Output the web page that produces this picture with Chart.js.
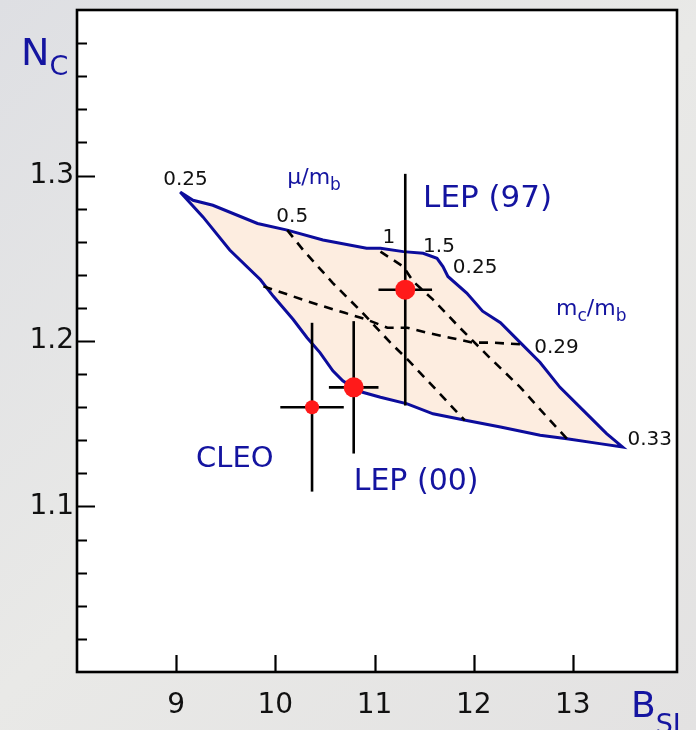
<!DOCTYPE html>
<html lang="en">
<head>
<meta charset="UTF-8">
<title>N_c vs B_SL</title>
<script src="https://cdn.jsdelivr.net/npm/chart.js"></script>
<style>
    html, body { margin: 0; padding: 0; background: #e4e4e7; }
    #wrap { width: 696px; height: 730px; }
</style>
</head>
<body>
<div id="wrap"><canvas id="chart" width="696" height="730"></canvas></div>
<script>
// measurements: B_SL (%) and N_c
const expNames = ['CLEO', 'LEP (00)', 'LEP (97)'];
const expX = [10.37, 10.79, 11.31];
const expY = [1.160, 1.172, 1.231];
const expXErr = [0.32, 0.25, 0.27];
const expYErr = [0.051, 0.040, 0.070];

// allowed region: mu/mb 0.25..1.5, mc/mb 0.25..0.33
const regionX = [9.04, 9.17, 9.37, 9.82, 10.12, 10.48, 10.92, 11.06, 11.29, 11.49, 11.63, 11.69, 11.74, 11.93, 12.09, 12.27, 12.47, 12.67, 12.87, 13.14, 13.34, 13.50,
                 13.27, 12.94, 12.67, 12.27, 11.93, 11.59, 11.33, 11.06, 10.88, 10.78, 10.68, 10.58, 10.45, 10.32, 10.18, 9.98, 9.85, 9.54, 9.27];
const regionY = [1.290, 1.285, 1.282, 1.271, 1.267, 1.261, 1.256, 1.256, 1.254, 1.253, 1.250, 1.245, 1.239, 1.229, 1.218, 1.211, 1.199, 1.187, 1.172, 1.156, 1.144, 1.136,
                 1.138, 1.141, 1.143, 1.148, 1.152, 1.156, 1.162, 1.166, 1.169, 1.172, 1.176, 1.182, 1.193, 1.202, 1.213, 1.227, 1.237, 1.255, 1.275];

// mu/mb = 0.5
const mu05X = [10.12, 10.28, 10.58, 10.88, 11.16, 11.33, 11.63, 11.91];
const mu05Y = [1.267, 1.255, 1.235, 1.217, 1.199, 1.189, 1.170, 1.152];
// mu/mb = 1
const mu1X = [11.06, 11.29, 11.39, 11.59, 11.86, 12.16, 12.47, 12.74, 12.94];
const mu1Y = [1.254, 1.245, 1.236, 1.225, 1.208, 1.190, 1.172, 1.154, 1.141];
// mc/mb = 0.29
const mc029X = [9.88, 10.08, 10.32, 10.48, 10.70, 10.92, 11.13, 11.33, 11.53, 11.76, 11.99, 12.19, 12.47];
const mc029Y = [1.233, 1.229, 1.224, 1.221, 1.217, 1.213, 1.208, 1.208, 1.205, 1.202, 1.199, 1.199, 1.198];

const xMin = 8, xMax = 14.05, yMin = 1.0, yMax = 1.4;

const BLUE = '#1414a0';
const FONT = '"DejaVu Sans", Verdana, sans-serif';

// text placed in the plot (data coordinates of left/baseline)
const notes = [
    { parts: [['LEP (97)', 31]], x: 11.49, y: 1.281, color: BLUE },
    { parts: [['LEP (00)', 30]], x: 10.79, y: 1.110, color: BLUE },
    { parts: [['CLEO', 29]], x: 9.20, y: 1.124, color: BLUE },
    { parts: [['\u03bc/m', 22], ['b', 17, 6]], x: 10.12, y: 1.295, color: BLUE },
    { parts: [['m', 22], ['c', 17, 6], ['/m', 22], ['b', 17, 6]], x: 12.83, y: 1.216, color: BLUE },
    { parts: [['0.25', 20]], x: 8.87, y: 1.294, color: '#111' },
    { parts: [['0.5', 20]], x: 10.01, y: 1.272, color: '#111' },
    { parts: [['1', 20]], x: 11.08, y: 1.259, color: '#111' },
    { parts: [['1.5', 20]], x: 11.49, y: 1.254, color: '#111' },
    { parts: [['0.25', 20]], x: 11.79, y: 1.241, color: '#111' },
    { parts: [['0.29', 20]], x: 12.61, y: 1.193, color: '#111' },
    { parts: [['0.33', 20]], x: 13.55, y: 1.137, color: '#111' }
];

function pts(xs, ys) {
    return xs.map((x, i) => ({ x: x, y: ys[i] }));
}

function drawParts(ctx, parts, x, y, color) {
    ctx.fillStyle = color;
    ctx.textAlign = 'left';
    ctx.textBaseline = 'alphabetic';
    let cx = x;
    parts.forEach(p => {
        ctx.font = p[1] + 'px ' + FONT;
        ctx.fillText(p[0], cx, y + (p[2] || 0));
        cx += ctx.measureText(p[0]).width;
    });
}

const decor = {
    id: 'decor',
    beforeDraw(chart) {
        const ctx = chart.ctx, a = chart.chartArea;
        ctx.save();
        const g = ctx.createLinearGradient(0, 0, 696, 730);
        g.addColorStop(0, '#dedfe3');
        g.addColorStop(0.5, '#e9e9e7');
        g.addColorStop(1, '#e3e2e2');
        ctx.fillStyle = g;
        ctx.fillRect(0, 0, chart.width, chart.height);
        ctx.fillStyle = '#ffffff';
        ctx.fillRect(a.left, a.top, a.right - a.left, a.bottom - a.top);
        ctx.restore();
    },
    afterDraw(chart) {
        const ctx = chart.ctx, a = chart.chartArea;
        const xs = chart.scales.x, ys = chart.scales.y;
        ctx.save();
        // inward ticks
        ctx.strokeStyle = '#000';
        ctx.lineWidth = 2.2;
        ctx.beginPath();
        ys.ticks.forEach(t => {
            const k = Math.round(t.value * 100);
            if (k <= 100 || k >= 140) return;
            const py = Math.round(ys.getPixelForValue(t.value)) + 0.5;
            const len = k % 10 === 0 ? 18 : 10;
            ctx.moveTo(a.left, py);
            ctx.lineTo(a.left + len, py);
        });
        xs.ticks.forEach(t => {
            if (t.value <= xMin || t.value >= 14) return;
            const px = Math.round(xs.getPixelForValue(t.value)) + 0.5;
            ctx.moveTo(px, a.bottom);
            ctx.lineTo(px, a.bottom - 17);
        });
        ctx.stroke();
        // frame
        ctx.lineWidth = 2.6;
        ctx.strokeRect(a.left, a.top, a.right - a.left, a.bottom - a.top);
        // notes inside the plot
        notes.forEach(n => {
            drawParts(ctx, n.parts, xs.getPixelForValue(n.x), ys.getPixelForValue(n.y), n.color);
        });
        // axis titles
        drawParts(ctx, [['N', 38], ['C', 27, 10]], 21, 65, BLUE);
        drawParts(ctx, [['B', 36], ['SL', 27, 16]], 631, 717, BLUE);
        ctx.restore();
    }
};

const datasets = [];
// measured points (on top)
datasets.push({
    data: pts(expX, expY),
    backgroundColor: '#ff1a1a',
    borderWidth: 0,
    pointRadius: [7, 10, 10],
    pointHoverRadius: [7, 10, 10],
    order: 0
});
// error bars
expX.forEach((x, i) => {
    datasets.push({
        data: [{ x: x - expXErr[i], y: expY[i] }, { x: x + expXErr[i], y: expY[i] }],
        showLine: true, borderColor: '#000', borderWidth: 2.6, pointRadius: 0, pointHoverRadius: 0, order: 1
    });
    datasets.push({
        data: [{ x: x, y: expY[i] - expYErr[i] }, { x: x, y: expY[i] + expYErr[i] }],
        showLine: true, borderColor: '#000', borderWidth: 2.6, pointRadius: 0, pointHoverRadius: 0, order: 1
    });
});
// dashed contour lines
[[mu05X, mu05Y], [mu1X, mu1Y], [mc029X, mc029Y]].forEach(l => {
    datasets.push({
        data: pts(l[0], l[1]),
        showLine: true, borderColor: '#000', borderWidth: 2.6, borderDash: [9, 7],
        pointRadius: 0, pointHoverRadius: 0, order: 2
    });
});
// region
datasets.push({
    data: pts(regionX.concat(regionX[0]), regionY.concat(regionY[0])),
    showLine: true, fill: 'shape', backgroundColor: '#fdede0',
    borderColor: '#0c0c9c', borderWidth: 3, pointRadius: 0, pointHoverRadius: 0, order: 3
});

new Chart(document.getElementById('chart'), {
    type: 'scatter',
    data: { datasets: datasets },
    options: {
        responsive: false,
        animation: false,
        layout: { padding: { top: 10, right: 19, left: 0, bottom: 0 } },
        plugins: { legend: { display: false }, tooltip: { enabled: false } },
        scales: {
            x: {
                type: 'linear', min: xMin, max: xMax,
                afterFit(s) { s.height = 58; s.paddingLeft = 0; s.paddingRight = 0; },
                grid: { display: false, drawTicks: false },
                border: { display: false },
                ticks: {
                    stepSize: 1, autoSkip: false, padding: 17, maxRotation: 0,
                    color: '#111', font: { family: FONT, size: 28 },
                    callback: v => (v > xMin && v < 14) ? String(v) : ''
                }
            },
            y: {
                type: 'linear', min: yMin, max: yMax,
                afterFit(s) { s.width = 77; s.paddingTop = 0; s.paddingBottom = 0; },
                grid: { display: false, drawTicks: false },
                border: { display: false },
                ticks: {
                    stepSize: 0.02, autoSkip: false, padding: 3,
                    color: '#111', font: { family: FONT, size: 28 },
                    callback: v => {
                        const k = Math.round(v * 100);
                        return (k % 10 === 0 && k > 100 && k < 140) ? (k / 100).toFixed(1) : '';
                    }
                }
            }
        }
    },
    plugins: [decor]
});
</script>
</body>
</html>
